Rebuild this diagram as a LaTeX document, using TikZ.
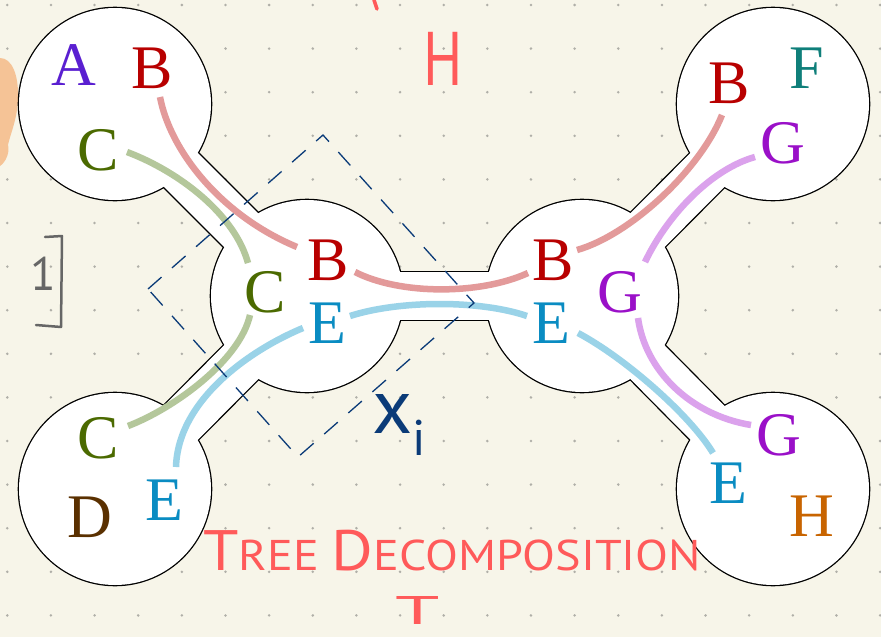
\documentclass[tikz,border=0pt]{standalone}
\usepackage{fontspec}
\setmainfont{Liberation Serif}
\newfontfamily\hand{PT Sans}

\definecolor{paper}{HTML}{F7F5E9}
\definecolor{dotgray}{HTML}{B0AFA8}
\definecolor{blobc}{HTML}{F5C396}
\definecolor{pen}{HTML}{FF5A5A}
\definecolor{navy}{HTML}{0B3B78}
\definecolor{pencil}{HTML}{666666}
% letter colours
\definecolor{cA}{HTML}{5A1FD1}
\definecolor{cB}{HTML}{B80000}
\definecolor{cC}{HTML}{4B6A00}
\definecolor{cD}{HTML}{5A3000}
\definecolor{cE}{HTML}{0A8CC2}
\definecolor{cF}{HTML}{0F7F7A}
\definecolor{cG}{HTML}{9A10C8}
\definecolor{cH}{HTML}{C86400}
% link colours
\definecolor{lB}{HTML}{E39A9A}
\definecolor{lC}{HTML}{B4C79B}
\definecolor{lE}{HTML}{9AD3E8}
\definecolor{lG}{HTML}{DBA2EC}

\tikzset{
  bag/.style={circle,fill=black,inner sep=0pt,minimum size=194.6pt},
  var/.style={inner sep=0pt,font=\fontsize{62}{62}\selectfont},
  link/.style={line width=6.5pt},
  handnote/.style={inner sep=0pt,anchor=base west,font=\hand}
}

\begin{document}
\begin{tikzpicture}[x=1pt,y=-1pt]

  % paper and dot grid
  \fill[paper] (0,0) rectangle (881,637);
  \useasboundingbox (0,0) rectangle (881,637);
  \foreach \i in {0,...,20}
    \foreach \j in {0,...,14}
      \fill[dotgray] (7.3+43.64*\i,5+43.6*\j) circle[radius=1.4pt];
  \fill[blobc] (0,58) .. controls (12,58) and (19,75) .. (18,100)
    .. controls (17,120) and (10,135) .. (8,145)
    .. controls (10,152) and (6,162) .. (0,166) -- cycle;

  % bags
  \node[bag] (tl) at (115,104) {};
  \node[bag] (ml) at (307,296) {};
  \node[bag] (bl) at (115,489) {};
  \node[bag] (mr) at (582,296) {};
  \node[bag] (tr) at (773,104) {};
  \node[bag] (br) at (773,489) {};
  \foreach \a/\b in {tl/ml,bl/ml,ml/mr,mr/tr,mr/br}
    \draw[line width=50.6pt] (\a.center) -- (\b.center);
  \foreach \a/\b in {tl/ml,bl/ml,ml/mr,mr/tr,mr/br}
    \draw[white,line width=48pt] (\a.center) -- (\b.center);
  \foreach \a in {tl,ml,bl,mr,tr,br}
    \fill[white] (\a.center) circle[radius=96pt];

  % vertices in each bag
  \node[var,cA] (tlA) at (74,65) {A};
  \node[var,cB] (tlB) at (152,68) {B};
  \node[var,cC] (tlC) at (98,150) {C};
  \node[var,cB] (mlB) at (328,260) {B};
  \node[var,cC] (mlC) at (265,292) {C};
  \node[var,cE] (mlE) at (327,323) {E};
  \node[var,cC] (blC) at (98,438) {C};
  \node[var,cD] (blD) at (90,517) {D};
  \node[var,cE] (blE) at (164,500) {E};
  \node[var,cB] (mrB) at (553,260) {B};
  \node[var,cG] (mrG) at (620,292) {G};
  \node[var,cE] (mrE) at (551,323) {E};
  \node[var,cB] (trB) at (729,83) {B};
  \node[var,cF] (trF) at (807,68) {F};
  \node[var,cG] (trG) at (783,143) {G};
  \node[var,cG] (brG) at (779,435) {G};
  \node[var,cE] (brE) at (728,483) {E};
  \node[var,cH] (brH) at (812,516) {H};

  % same vertex in neighbouring bags
  \draw[link,lB] ([shift={(8,29)}]tlB.center) .. controls (170,150) and (220,215) .. ([shift={(-31,-13)}]mlB.center);
  \draw[link,lB] ([shift={(27,12)}]mlB.center) .. controls (400,295) and (480,295) .. ([shift={(-25,13)}]mrB.center);
  \draw[link,lB] ([shift={(24,-10)}]mrB.center) .. controls (630,235) and (700,170) .. ([shift={(-7,32)}]trB.center);
  \draw[link,lC] ([shift={(29,2)}]tlC.center) .. controls (180,172) and (235,215) .. ([shift={(-17,-29)}]mlC.center);
  \draw[link,lC] ([shift={(-15,23)}]mlC.center) .. controls (240,360) and (175,408) .. ([shift={(30,-12)}]blC.center);
  \draw[link,lE] ([shift={(-24,5)}]mlE.center) .. controls (250,350) and (178,400) .. ([shift={(12,-33)}]blE.center);
  \draw[link,lE] ([shift={(23,-7)}]mlE.center) .. controls (400,300) and (480,300) .. ([shift={(-24,-7)}]mrE.center);
  \draw[link,lE] ([shift={(27,10)}]mrE.center) .. controls (625,358) and (690,415) .. ([shift={(-15,-30)}]brE.center);
  \draw[link,lG] ([shift={(25,-30)}]mrG.center) .. controls (670,210) and (715,168) .. ([shift={(-28,14)}]trG.center);
  \draw[link,lG] ([shift={(18,26)}]mrG.center) .. controls (645,370) and (690,415) .. ([shift={(-28,-10)}]brG.center);

  % bag X_i marked by hand
  \draw[navy,line width=1.3pt,dash pattern=on 18pt off 14pt]
    (148,289) -- (323,135) -- (474,303) -- (298,457) -- cycle;
  \node[handnote,navy] (xi) at (372,433)
    {\fontsize{78}{78}\selectfont x\raisebox{-22pt}{\fontsize{50}{50}\selectfont i}};

  % notes
  \draw[pen,line width=3.5pt,line cap=round] (374,0) -- (377,9);
  \node[handnote,pen] (hname) at (423,85)
    {\scalebox{0.77}[1]{\fontsize{76}{76}\selectfont H}};
  \node[handnote,pen] (tdname) at (203,570)
    {\scalebox{1.12}[1]{\fontsize{57}{57}\selectfont T\fontsize{43}{43}\selectfont REE
     \fontsize{57}{57}\selectfont D\fontsize{43}{43}\selectfont ECOMPOSITION}};
  \node[handnote,pen,anchor=base] (tname) at (418,624)
    {\scalebox{2}[1]{\fontsize{40}{40}\selectfont T}};
  \node[handnote,pencil] (num) at (30,290) {\fontsize{47}{47}\selectfont 1};
  \draw[pencil,line width=2.5pt,line cap=round,line join=round]
    (45,237) -- (62,236) -- (61,327) -- (36,325);

\end{tikzpicture}
\end{document}
